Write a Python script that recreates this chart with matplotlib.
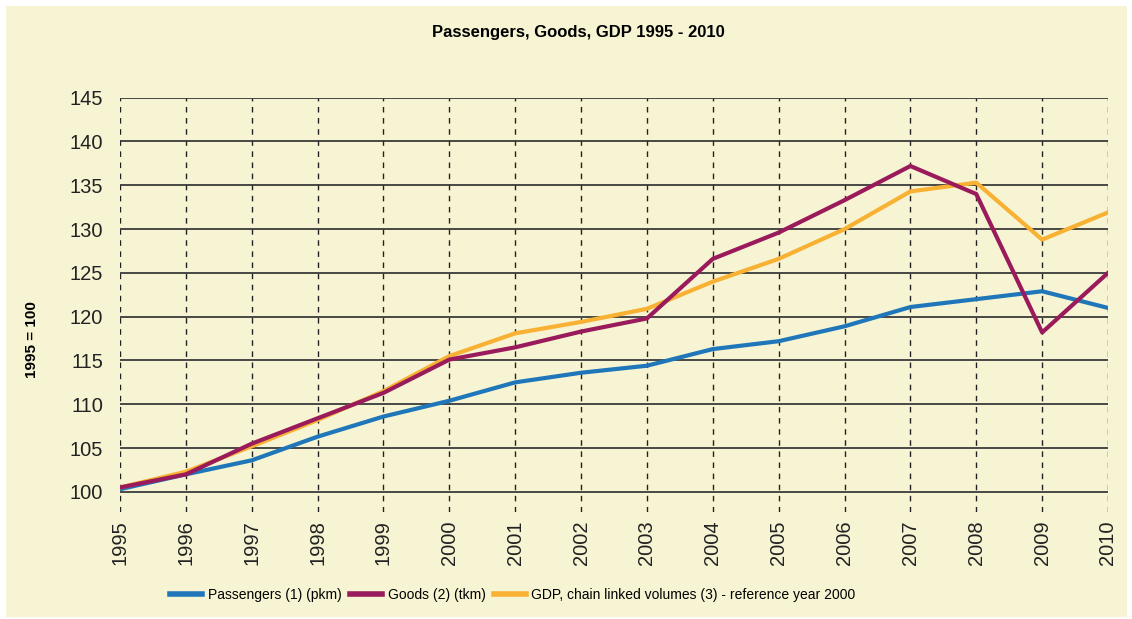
import matplotlib
matplotlib.use('Agg')
import matplotlib.pyplot as plt
from matplotlib.patches import Rectangle

years = list(range(1995, 2011))
passengers = [100.3, 102.0, 103.6, 106.3, 108.6, 110.4, 112.5, 113.6, 114.4, 116.3, 117.2, 118.9, 121.1, 122.0, 122.9, 121.0]
goods = [100.5, 102.0, 105.5, 108.4, 111.3, 115.1, 116.5, 118.3, 119.8, 126.6, 129.6, 133.3, 137.2, 134.0, 118.2, 125.0]
gdp = [100.5, 102.3, 105.2, 108.2, 111.5, 115.5, 118.1, 119.4, 120.9, 124.0, 126.6, 130.0, 134.3, 135.3, 128.8, 131.9]
y_ticks = list(range(100, 150, 5))

series_names = ['Passengers (1) (pkm)', 'Goods (2) (tkm)',
                'GDP, chain linked volumes (3) - reference year 2000']
colors = ['#1f77ba', '#9a1b5b', '#f8b133']

narrow = ['Liberation Sans', 'DejaVu Sans']
bg = '#f7f4d3'

fig = plt.figure(figsize=(11.32, 6.19), dpi=100)
fig.patch.set_facecolor('white')
fig.patches.append(Rectangle((6 / 1132, 2 / 619), 1121 / 1132, 611 / 619,
                             transform=fig.transFigure, facecolor=bg,
                             edgecolor='none', zorder=-10))

ax = fig.add_axes([120 / 1132, 1 - 512 / 619, 988 / 1132, (512 - 97.7) / 619])
ax.set_facecolor(bg)

# draw order: blue, orange, purple on top
ax.plot(years, passengers, color=colors[0], lw=3.0, label=series_names[0], zorder=3)
ax.plot(years, gdp, color=colors[2], lw=3.0, label=series_names[2], zorder=3)
ax.plot(years, goods, color=colors[1], lw=3.0, label=series_names[1], zorder=4)

ax.set_xlim(1995, 2010)
ax.set_ylim(97.7, 145)
ax.set_xticks(years)
ax.set_yticks(y_ticks)
ax.set_xticklabels([str(y) for y in years], rotation=90, fontsize=14.5,
                   family='Liberation Sans', color='#222222')
ax.set_yticklabels([str(v) for v in y_ticks], fontsize=14.5,
                   family='Liberation Sans', color='#222222')
ax.tick_params(axis='both', length=0)
ax.tick_params(axis='y', pad=12)
ax.tick_params(axis='x', pad=6)

ax.yaxis.grid(True, color='#3a3a3a', lw=1.3, linestyle='-')
ax.xaxis.grid(True, color='#222222', lw=1.0, linestyle=(0, (4, 4)))
ax.set_axisbelow(True)
for s in ax.spines.values():
    s.set_visible(False)

fig.text(578 / 1132, 1 - 32 / 619, 'Passengers, Goods, GDP 1995 - 2010',
         ha='center', va='center', fontsize=12, fontweight='bold', family=narrow)
fig.text(32 / 1132, 1 - 340 / 619, '1995 = 100', rotation=90, ha='center',
         va='center', fontsize=11, fontweight='bold', family=narrow)

handles, labels = ax.get_legend_handles_labels()
order = [0, 2, 1]
leg = fig.legend([handles[i] for i in order], [labels[i] for i in order],
                 loc='center', bbox_to_anchor=(513 / 1132, 1 - 595 / 619), ncol=3,
                 frameon=False, handlelength=2.3, handletextpad=0.4,
                 columnspacing=0.6, prop={'family': narrow, 'size': 10})
for line in leg.get_lines():
    line.set_linewidth(4)

fig.savefig('out.png', dpi=100, facecolor=fig.get_facecolor())
